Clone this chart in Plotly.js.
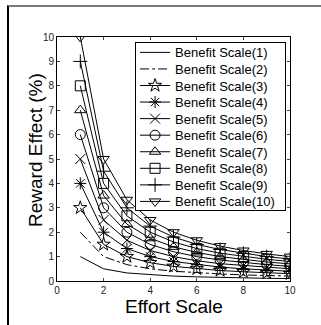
<!DOCTYPE html>
<html>
<head>
<meta charset="utf-8">
<script src="https://cdn.plot.ly/plotly-3.0.1.min.js"></script>
<style>
html,body{margin:0;padding:0;background:#fff;}
#wrap{position:relative;width:321px;height:325px;overflow:hidden;}
#chart{position:absolute;left:0;top:0;width:321px;height:325px;}
#frame{position:absolute;left:7px;top:5px;width:330px;height:340px;border-top:2px solid #7a7a7a;border-left:2px solid #000;pointer-events:none;}
</style>
</head>
<body>
<div id="wrap"><div id="chart"></div><div id="frame"></div></div>
<script>
const effort = [1, 2, 3, 4, 5, 6, 7, 8, 9, 10];
const seriesNames = ["Benefit Scale(1)", "Benefit Scale(2)", "Benefit Scale(3)", "Benefit Scale(4)", "Benefit Scale(5)",
                     "Benefit Scale(6)", "Benefit Scale(7)", "Benefit Scale(8)", "Benefit Scale(9)", "Benefit Scale(10)"];
const b1  = [1, 0.5, 0.33, 0.25, 0.2, 0.17, 0.14, 0.13, 0.11, 0.1];
const b2  = [2, 1, 0.67, 0.5, 0.4, 0.33, 0.29, 0.25, 0.22, 0.2];
const b3  = [3, 1.5, 1, 0.75, 0.6, 0.5, 0.43, 0.38, 0.33, 0.3];
const b4  = [4, 2, 1.33, 1, 0.8, 0.67, 0.57, 0.5, 0.44, 0.4];
const b5  = [5, 2.5, 1.67, 1.25, 1, 0.83, 0.71, 0.63, 0.56, 0.5];
const b6  = [6, 3, 2, 1.5, 1.2, 1, 0.86, 0.75, 0.67, 0.6];
const b7  = [7, 3.5, 2.33, 1.75, 1.4, 1.17, 1, 0.88, 0.78, 0.7];
const b8  = [8, 4, 2.67, 2, 1.6, 1.33, 1.14, 1, 0.89, 0.8];
const b9  = [9, 4.5, 3, 2.25, 1.8, 1.5, 1.29, 1.13, 1, 0.9];
const b10 = [10, 5, 3.33, 2.5, 2, 1.67, 1.43, 1.25, 1.11, 1];
const xTicks = [0, 2, 4, 6, 8, 10];
const yTicks = [0, 1, 2, 3, 4, 5, 6, 7, 8, 9, 10];
const xTitle = "Effort Scale";
const yTitle = "Reward Effect (%)";

const allSeries = [b1, b2, b3, b4, b5, b6, b7, b8, b9, b10];
const symbols = [null, null, "star-open", "asterisk-open", "x-thin-open", "circle-open",
                 "triangle-up-open", "square-open", "cross-thin-open", "triangle-down-open"];
const dashes = ["solid", "dashdot", "solid", "solid", "solid", "solid", "solid", "solid", "solid", "solid"];

const traces = allSeries.map((ys, i) => {
  const t = {
    x: effort, y: ys, name: seriesNames[i], type: "scatter",
    mode: symbols[i] ? "lines+markers" : "lines",
    line: {color: "#000", width: 1, dash: dashes[i]}
  };
  if (symbols[i]) t.marker = {symbol: symbols[i], size: 10, color: "#000", line: {color: "#000", width: 1}};
  return t;
});

const layout = {
  width: 321, height: 325,
  margin: {l: 57, r: 31, t: 37, b: 44},
  paper_bgcolor: "#fff", plot_bgcolor: "#fff",
  font: {family: "Arial, 'Liberation Sans', sans-serif", color: "#000"},
  showlegend: true,
  legend: {x: 0.335, y: 0.98, xanchor: "left", yanchor: "top", bgcolor: "#fff",
           bordercolor: "#000", borderwidth: 1, font: {size: 13}, tracegroupgap: 0},
  xaxis: {range: [0, 10], tickvals: xTicks, ticktext: xTicks.map(String), ticks: "inside", ticklen: 3,
          showgrid: false, zeroline: false, showline: true, linecolor: "#000", linewidth: 1, mirror: "ticks",
          tickfont: {size: 10, color: "#222"}},
  yaxis: {range: [0, 10], tickvals: yTicks, ticktext: yTicks.map(String), ticks: "inside", ticklen: 3,
          showgrid: false, zeroline: false, showline: true, linecolor: "#000", linewidth: 1, mirror: "ticks",
          tickfont: {size: 10, color: "#222"}},
  annotations: [
    {text: xTitle, xref: "paper", yref: "paper", x: 0.5, y: 0, xanchor: "center", yanchor: "middle",
     yshift: -25, showarrow: false, font: {size: 19}},
    {text: yTitle, xref: "paper", yref: "paper", x: 0, y: 0.537, xanchor: "center", yanchor: "middle",
     xshift: -21, textangle: -90, showarrow: false, font: {size: 19}}
  ]
};
Plotly.newPlot("chart", traces, layout, {displayModeBar: false, staticPlot: true}).then(() => {
  const leg = document.querySelector("#chart .legend");
  if (!leg) return;
  const bg = leg.querySelector("rect.bg");
  if (bg) { bg.setAttribute("width", 150); bg.setAttribute("height", 168); }
  const items = leg.querySelectorAll("g.traces");
  items.forEach((g, i) => {
    g.setAttribute("transform", "translate(0," + (10.5 + 16.56 * i).toFixed(2) + ")");
  });
});
</script>
</body>
</html>
